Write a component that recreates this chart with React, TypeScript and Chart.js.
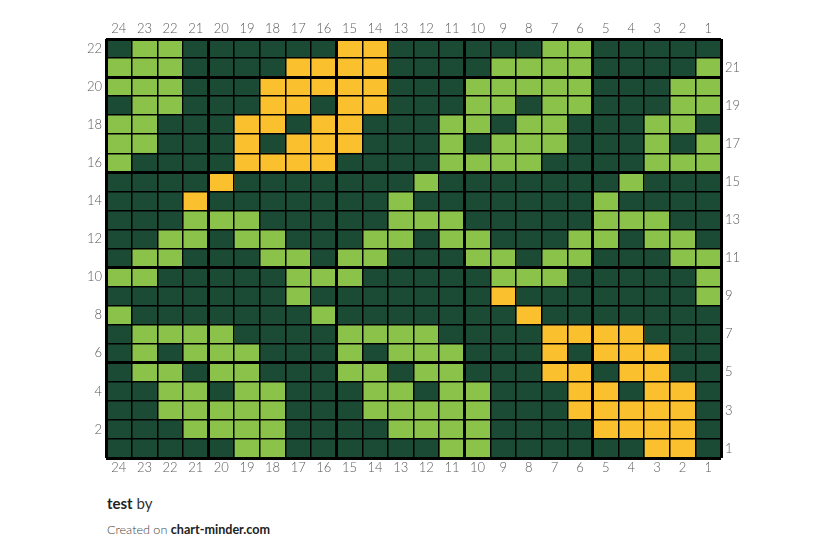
import React, { useEffect, useRef } from 'react';
import { Chart, registerables } from 'chart.js';

Chart.register(...registerables);

// Column labels, left to right
const columnLabels = ['24', '23', '22', '21', '20', '19', '18', '17', '16', '15', '14', '13', '12', '11', '10', '9', '8', '7', '6', '5', '4', '3', '2', '1'];
// Row labels, top to bottom
const rowLabels = ['22', '21', '20', '19', '18', '17', '16', '15', '14', '13', '12', '11', '10', '9', '8', '7', '6', '5', '4', '3', '2', '1'];

// Cell states per row (top to bottom), one letter per column (24 -> 1)
// D = dark green, L = light green, Y = yellow
const cellRows = [
  'DLLDDDDDDYYDDDDDDLLDDDDD', // 22
  'LLLDDDDYYYYDDDDLLLLDDDDL', // 21
  'LLLDDDYYYYYDDDLLLLLDDDLL', // 20
  'DLLDDDYYDYYDDDLLDLLDDDLL', // 19
  'LLDDDYYDYYDDDLLDLLDDDLLD', // 18
  'LLDDDYDYYYDDDLDLLLDDDLDL', // 17
  'LDDDDYYYYDDDDLLLLDDDDLLL', // 16
  'DDDDYDDDDDDDLDDDDDDDLDDD', // 15
  'DDDYDDDDDDDLDDDDDDDLDDDD', // 14
  'DDDLLLDDDDDLLLDDDDDLLLDD', // 13
  'DDLLDLLDDDLLDLLDDDLLDLLD', // 12
  'DLLDDDLLDLLDDDLLDLLDDDLL', // 11
  'LLDDDDDLLLDDDDDLLLDDDDDL', // 10
  'DDDDDDDLDDDDDDDYDDDDDDDL', // 9
  'LDDDDDDDLDDDDDDDYDDDDDDD', // 8
  'DLLLLDDDDLLLLDDDDYYYYDDD', // 7
  'DLDLLLDDDLDLLLDDDYDYYYDD', // 6
  'DLLDLLDDDLLDLLDDDYYDYYDD', // 5
  'DDLLDLLDDDLLDLLDDDYYDYYD', // 4
  'DDLLLLLDDDLLLLLDDDYYYYYD', // 3
  'DDDLLLLDDDDLLLLDDDDYYYYD', // 2
  'DDDDDLLDDDDDDLLDDDDDDYYD', // 1
];

const stateColors: Record<string, string> = {
  D: '#1B4B34',
  L: '#8BC34A',
  Y: '#FBC02D',
};

const tickFont = { family: 'Lato, "DejaVu Sans", sans-serif', size: 13, weight: 300 as any };
const tickColor = '#5a5a5a';

function colLineWidth(index: number | undefined) {
  if (index === undefined) return 3;
  const n = columnLabels.length;
  return index === 0 || (n - index) % 5 === 0 ? 3 : 1.5;
}

function rowLineWidth(index: number | undefined) {
  if (index === undefined) return 3;
  const n = rowLabels.length;
  return index === 0 || (n - index) % 5 === 0 ? 3 : 1.5;
}

export default function App() {
  const canvasRef = useRef<HTMLCanvasElement>(null);

  useEffect(() => {
    if (!canvasRef.current) return;
    const datasets = columnLabels.map((col, j) => ({
      label: col,
      data: rowLabels.map(() => 1),
      backgroundColor: cellRows.map((r) => stateColors[r[j]]),
      borderWidth: 0,
      barPercentage: 1,
      categoryPercentage: 1,
      xAxisID: 'x',
      yAxisID: 'y',
    }));

    const chart = new Chart(canvasRef.current, {
      type: 'bar',
      data: { labels: rowLabels, datasets },
      options: {
        indexAxis: 'y',
        animation: false,
        responsive: true,
        maintainAspectRatio: false,
        layout: { padding: 0 },
        plugins: {
          legend: { display: false },
          tooltip: { enabled: false },
        },
        scales: {
          x: {
            type: 'linear',
            stacked: true,
            min: 0,
            max: columnLabels.length,
            display: false,
          },
          y: {
            type: 'category',
            labels: rowLabels,
            stacked: true,
            position: 'left',
            offset: true,
            grid: {
              z: 2,
              offset: true,
              color: '#000000',
              lineWidth: (ctx: any) => rowLineWidth(ctx.index),
              drawTicks: false,
            },
            border: { display: false },
            ticks: {
              autoSkip: false,
              padding: 4,
              font: tickFont,
              color: tickColor,
              callback: (_v: any, i: number) => (Number(rowLabels[i]) % 2 === 0 ? rowLabels[i] : ''),
            },
            afterFit: (s: any) => {
              s.width = 98;
            },
          },
          y2: {
            type: 'category',
            labels: rowLabels,
            position: 'right',
            offset: true,
            grid: { display: false, drawTicks: false, offset: true },
            border: { display: false },
            ticks: {
              autoSkip: false,
              padding: 4,
              font: tickFont,
              color: tickColor,
              callback: (_v: any, i: number) => (Number(rowLabels[i]) % 2 === 1 ? rowLabels[i] : ''),
            },
            afterFit: (s: any) => {
              s.width = 98;
            },
          },
          xTop: {
            type: 'category',
            labels: columnLabels,
            position: 'top',
            offset: true,
            grid: {
              z: 2,
              offset: true,
              color: '#000000',
              lineWidth: (ctx: any) => colLineWidth(ctx.index),
              drawTicks: false,
            },
            border: { display: false },
            ticks: {
              autoSkip: false,
              maxRotation: 0,
              padding: 2,
              font: tickFont,
              color: tickColor,
            },
            afterFit: (s: any) => {
              s.height = 31;
            },
          },
          xBottom: {
            type: 'category',
            labels: columnLabels,
            position: 'bottom',
            offset: true,
            grid: { display: false, drawTicks: false, offset: true },
            border: { display: false },
            ticks: {
              autoSkip: false,
              maxRotation: 0,
              padding: 2,
              font: tickFont,
              color: tickColor,
            },
            afterFit: (s: any) => {
              s.height = 30;
            },
          },
        } as any,
      },
    });
    return () => chart.destroy();
  }, []);

  return (
    <div style={{ position: 'relative', width: 811, height: 544 }}>
      <div style={{ position: 'absolute', left: 0, top: 0, width: 811, height: 480 }}>
        <canvas ref={canvasRef} />
      </div>
      <div
        style={{
          position: 'absolute',
          left: 99,
          top: 488,
          fontFamily: 'Lato, sans-serif',
          fontSize: 15,
          lineHeight: '15px',
          color: '#222',
          whiteSpace: 'nowrap',
        }}
      >
        <span style={{ fontWeight: 700 }}>test</span>
        <span style={{ fontWeight: 400, color: '#333' }}> by</span>
      </div>
      <div
        style={{
          position: 'absolute',
          left: 99,
          top: 515,
          fontFamily: 'Lato, sans-serif',
          fontSize: 12.6,
          lineHeight: '13px',
          whiteSpace: 'nowrap',
        }}
      >
        <span style={{ fontWeight: 300, color: '#444' }}>Created on </span>
        <span style={{ fontWeight: 700, color: '#222' }}>chart-minder.com</span>
      </div>
    </div>
  );
}
